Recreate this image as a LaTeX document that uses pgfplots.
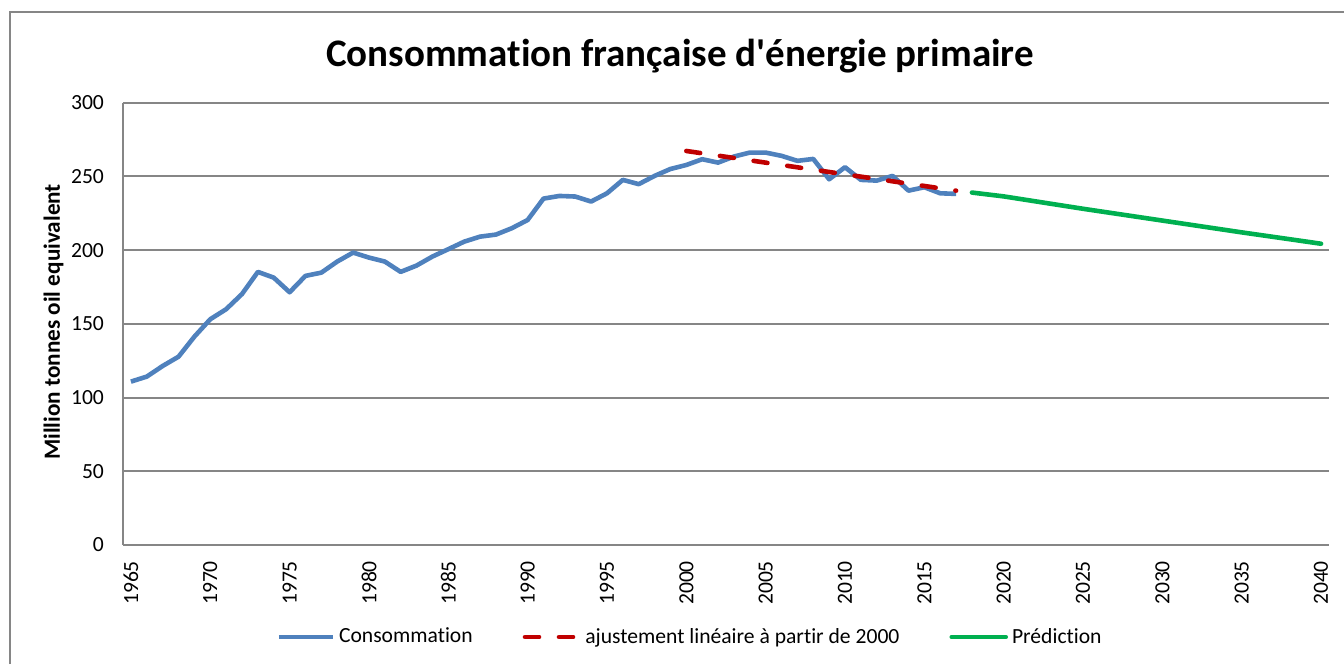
\documentclass[border=0pt]{standalone}
\usepackage{fontspec}
\setmainfont{Carlito}[Ligatures={TeXOff,NoCommon}]
\usepackage{pgfplots}
\pgfplotsset{compat=1.18}

\definecolor{conso}{HTML}{4F81BD}
\definecolor{ajust}{HTML}{C00000}
\definecolor{predi}{HTML}{00B050}
\definecolor{gridgray}{HTML}{868686}

\begin{document}
\begin{tikzpicture}
% frame of the chart area (1px = 0.5pt)
\useasboundingbox (0,0) rectangle (672pt,332pt);
\draw[gridgray, line width=0.8pt] (5pt,0) -- (5pt,326pt) -- (672pt,326pt);
\node[font=\fontsize{19.5}{22}\selectfont\bfseries] at (340pt,304pt)
  {Consommation française d'énergie primaire};
\begin{axis}[
    at={(61.5pt,59.5pt)}, anchor=south west,
    scale only axis,
    width=603pt, height=221.2pt,
    xmin=1964.5, xmax=2040.5,
    ymin=0, ymax=300,
    xtick={1965,1970,...,2040},
    ytick={0,50,...,300},
    axis x line=bottom, axis y line=left,
    axis line style={gridgray, line width=1pt, -},
    major tick length=0pt,
    ymajorgrids=true,
    grid style={gridgray, line width=1pt},
    /pgf/number format/assume math mode=true,
    /pgf/number format/1000 sep={},
    tick label style={font=\fontsize{10.8}{12}\selectfont},
    xticklabel style={rotate=90, anchor=east},
    xticklabel shift=4.5pt,
    yticklabel shift=6pt,
    ylabel={Million tonnes oil equivalent},
    every axis y label/.style={at={(axis description cs:-0.0576,0.504)}, rotate=90,
        anchor=center, font=\fontsize{11.6}{13}\selectfont\bfseries},
    legend style={
        at={(0.471,-0.208)}, anchor=center,
        legend columns=3, draw=none, fill=none,
        font=\fontsize{10.8}{12}\selectfont,
        /tikz/every even column/.append style={column sep=23pt},
    },
    legend image code/.code={\draw[#1] (0pt,0pt) -- (27pt,0pt);},
    clip=false,
]
\addplot[conso, line width=2.3pt, line join=round] coordinates {
    (1965,110.8) (1966,114.2) (1967,121.4) (1968,127.7) (1969,141.3)
    (1970,153.1) (1971,159.9) (1972,170.2) (1973,185.2) (1974,181.3)
    (1975,171.4) (1976,182.5) (1977,184.7) (1978,192.2) (1979,198.3)
    (1980,194.9) (1981,192.2) (1982,185.2) (1983,189.5) (1984,195.6)
    (1985,200.6) (1986,205.7) (1987,209.1) (1988,210.5) (1989,214.8)
    (1990,220.4) (1991,234.9) (1992,236.7) (1993,236.3) (1994,232.9)
    (1995,238.5) (1996,247.6) (1997,244.7) (1998,250.3) (1999,255.0)
    (2000,257.7) (2001,261.6) (2002,259.3) (2003,263.4) (2004,266.1)
    (2005,266.1) (2006,263.9) (2007,260.5) (2008,261.8) (2009,248.0)
    (2010,256.2) (2011,247.6) (2012,247.1) (2013,250.3) (2014,240.3)
    (2015,242.6) (2016,238.5) (2017,238.1)
};
\addplot[ajust, line width=2.3pt, line cap=round, dash pattern=on 7pt off 10pt] coordinates {
    (2000,267.2) (2017,240.3)
};
\addplot[predi, line width=2.3pt, line cap=round, line join=round] coordinates {
    (2018,239.0) (2020,236.4) (2025,228.0) (2030,220.0) (2035,212.0) (2040,204.3)
};
\legend{Consommation, ajustement linéaire à partir de 2000, Prédiction}
\end{axis}
\end{tikzpicture}
\end{document}
